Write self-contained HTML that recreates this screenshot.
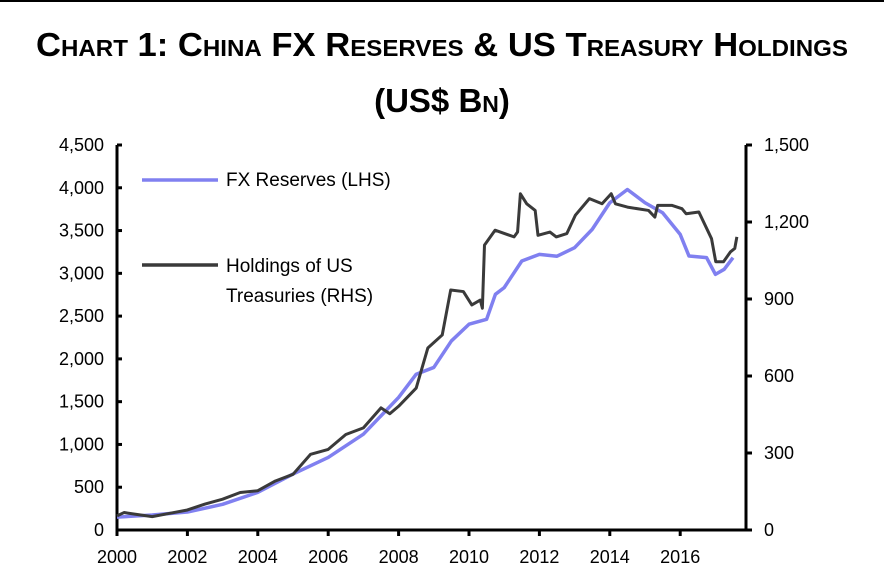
<!DOCTYPE html>
<html><head><meta charset="utf-8"><style>
body{margin:0;background:#fff;}
svg{display:block;font-family:"Liberation Sans",sans-serif;}
</style></head><body>
<svg id="chart" width="884" height="581" viewBox="0 0 884 581">
<line x1="0" y1="1" x2="884" y2="1" stroke="#000" stroke-width="2"/>
<text x="442" y="56" text-anchor="middle" font-size="33" font-weight="bold" textLength="812" lengthAdjust="spacingAndGlyphs" style="font-variant:small-caps">Chart 1: China FX Reserves &amp; US Treasury Holdings</text>
<text x="442" y="112" text-anchor="middle" font-size="33" font-weight="bold" style="font-variant:small-caps">(US$ Bn)</text>
<g id="axes"></g>
<g id="series"></g>
<g>
<line x1="142" y1="180" x2="218" y2="180" stroke="#8080f0" stroke-width="3.5"/>
<text x="226" y="186" font-size="19">FX Reserves (LHS)</text>
<line x1="142" y1="265" x2="218" y2="265" stroke="#3a3a3a" stroke-width="3.5"/>
<text x="226" y="272" font-size="19">Holdings of US</text>
<text x="226" y="302" font-size="19">Treasuries (RHS)</text>
</g>
</svg>
<script>
const fxYears=[2000,2001,2002,2003,2004,2005,2006,2007,2008,2008.5,2009,2009.5,2010,2010.5,2010.75,2011,2011.5,2012,2012.5,2013,2013.5,2014,2014.5,2015,2015.5,2016,2016.25,2016.75,2017,2017.25,2017.5];
const fxValues=[150,175,210,300,440,654,848,1120,1549,1821,1900,2210,2405,2463,2755,2833,3144,3222,3200,3300,3514,3825,3980,3825,3708,3455,3202,3183,2988,3047,3183];
const ustYears=[2000,2000.2,2000.5,2001,2001.5,2002,2002.5,2003,2003.5,2004,2004.5,2005,2005.5,2006,2006.5,2007,2007.5,2007.75,2008,2008.5,2008.83,2009.24,2009.48,2009.84,2010.08,2010.32,2010.38,2010.44,2010.74,2011.28,2011.38,2011.46,2011.64,2011.88,2011.96,2012.3,2012.48,2012.78,2013.02,2013.42,2013.78,2014.04,2014.16,2014.5,2015.1,2015.28,2015.36,2015.76,2016.05,2016.17,2016.53,2016.89,2017.01,2017.23,2017.43,2017.55,2017.61];
const ustValues=[55,68,62,52,65,78,101,120,146,153,191,217,295,314,372,398,476,453,482,553,709,760,935,929,877,896,864,1110,1168,1142,1161,1310,1271,1245,1148,1161,1142,1155,1226,1291,1271,1310,1271,1258,1245,1219,1265,1265,1252,1232,1239,1135,1045,1045,1084,1097,1142];
const leftTicks=[0,500,1000,1500,2000,2500,3000,3500,4000,4500];
const leftTickLabels=["0","500","1,000","1,500","2,000","2,500","3,000","3,500","4,000","4,500"];
const rightTicks=[0,300,600,900,1200,1500];
const rightTickLabels=["0","300","600","900","1,200","1,500"];
const xTicks=[2000,2002,2004,2006,2008,2010,2012,2014,2016];
const xTickLabels=["2000","2002","2004","2006","2008","2010","2012","2014","2016"];

const X0=117,X1=746,Y0=530,Y1=145;
const xs=y=>X0+(y-2000)*35.2;
const yl=v=>Y0-(v/4500)*(Y0-Y1);
const yr=v=>Y0-(v/1500)*(Y0-Y1);
const NS="http://www.w3.org/2000/svg";
function mk(tag,attrs,parent){const e=document.createElementNS(NS,tag);for(const k in attrs)e.setAttribute(k,attrs[k]);parent.appendChild(e);return e;}
const ax=document.getElementById('axes');
let e;
e=mk('line',{x1:X0,y1:Y1,x2:X0,y2:Y0,stroke:'#000','stroke-width':3},ax);


e=mk('line',{x1:X1,y1:Y1,x2:X1,y2:Y0,stroke:'#000','stroke-width':3},ax);


e=mk('line',{x1:X0,y1:Y0,x2:X1,y2:Y0,stroke:'#000','stroke-width':3},ax);


leftTicks.forEach((v,i)=>{
  e=mk('line',{x1:X0,y1:yl(v),x2:X0+5,y2:yl(v),stroke:'#000','stroke-width':3},ax);
  
  
  e=mk('text',{x:X0-13,y:yl(v)+6,'text-anchor':'end','font-size':18},ax);
  e.textContent=leftTickLabels[i];
  
  
});
rightTicks.forEach((v,i)=>{
  e=mk('line',{x1:X1,y1:yr(v),x2:X1+6,y2:yr(v),stroke:'#000','stroke-width':3},ax);
  
  
  e=mk('text',{x:X1+18,y:yr(v)+6,'font-size':18},ax);
  e.textContent=rightTickLabels[i];
  
  
});
xTicks.forEach((v,i)=>{
  e=mk('line',{x1:xs(v),y1:Y0,x2:xs(v),y2:Y0+6,stroke:'#000','stroke-width':3},ax);
  
  
  e=mk('text',{x:xs(v),y:Y0+33,'text-anchor':'middle','font-size':18},ax);
  e.textContent=xTickLabels[i];
  
  
});
const sg=document.getElementById('series');
e=mk('polyline',{points:fxYears.map((y,i)=>xs(y)+','+yl(fxValues[i])).join(' '),fill:'none',stroke:'#8080f0','stroke-width':3.5,'stroke-linejoin':'round'},sg);


e=mk('polyline',{points:ustYears.map((y,i)=>xs(y)+','+yr(ustValues[i])).join(' '),fill:'none',stroke:'#3a3a3a','stroke-width':3,'stroke-linejoin':'round'},sg);


</script>
</body></html>
